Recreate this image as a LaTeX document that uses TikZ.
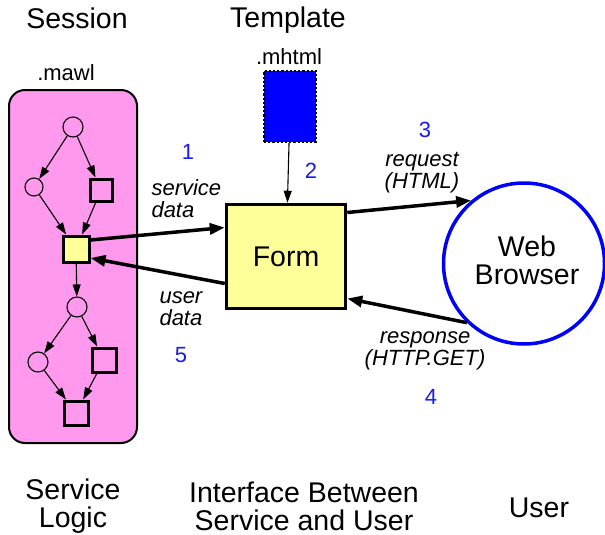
\documentclass[tikz,border=0pt]{standalone}
\usepackage{fontspec}
\setmainfont{Liberation Sans}
\usetikzlibrary{arrows.meta}
\definecolor{pinkbg}{HTML}{FF99EE}
\definecolor{formyellow}{HTML}{FFFF99}
\definecolor{numblue}{HTML}{1A1AF0}
\tikzset{
  big/.style={font=\fontsize{28.5}{28}\selectfont},
  lbl/.style={font=\fontsize{22}{22}\selectfont\itshape},
  small/.style={font=\fontsize{22}{22}\selectfont},
  num/.style={font=\fontsize{22}{22}\selectfont, text=numblue},
  circ/.style={circle, draw, line width=1.1pt, fill=pinkbg, minimum size=19pt, inner sep=0pt},
  sq/.style={rectangle, draw, line width=3pt, fill=pinkbg, minimum size=22pt, inner sep=0pt},
  thin/.style={line width=1.1pt, -{Triangle[length=12pt,width=8pt]}},
  thick/.style={line width=3.5pt, -{Triangle[length=15pt,width=11pt]}},
}
\begin{document}
\begin{tikzpicture}[x=1pt,y=-1pt]
\useasboundingbox (0,0) rectangle (605,535);
% headings
\node[big] (session) at (77,18) {Session};
\node[big] (template) at (288,20) {Template};
\node[small] (mawl) at (66,73) {.mawl};
\node[small] (mhtml) at (289,57) {.mhtml};
% session box
\node[draw, line width=2pt, fill=pinkbg, rounded corners=16pt, minimum width=128pt, minimum height=353pt, inner sep=0pt] (box) at (73,266.5) {};
% mawl graph
\node[circ, minimum size=20pt] (c1) at (73,127) {};
\node[circ, minimum size=18pt] (c2) at (34,187) {};
\node[sq] (s1) at (101,190) {};
\node[sq, fill=formyellow, minimum size=26pt] (y) at (76,249) {};
\node[circ, minimum size=20pt] (c3) at (77,307) {};
\node[circ, minimum size=20pt] (c4) at (38,362) {};
\node[sq, minimum size=24pt] (s2) at (104,360) {};
\node[sq, minimum size=24pt] (s3) at (76,413) {};
\draw[thin] (c1) -- (c2);
\draw[thin] (c1) -- (s1);
\draw[thin] (c2) -- (y);
\draw[thin] (s1) -- (y);
\draw[thin] (y) -- (c3);
\draw[thin] (c3) -- (c4);
\draw[thin] (c3) -- (s2);
\draw[thin] (c4) -- (s3);
\draw[thin] (s2) -- (s3);
% template
\node[draw, dotted, line width=2.2pt, fill=blue, minimum width=52pt, minimum height=71pt, inner sep=0pt] (tmpl) at (290,106.5) {};
% form
\node[draw, line width=3.5pt, fill=formyellow, minimum width=119pt, minimum height=104pt, inner sep=0pt, big] (form) at (286,256.5) {Form};
\draw[thin] (tmpl) -- (form);
% browser
\node[circle, draw=blue, line width=3.5pt, minimum size=161pt, inner sep=0pt] (browser) at (524,263.5) {};
\node[big, align=center] (wb) at (527,260) {Web\\Browser};
% thick arrows
\draw[thick] ([yshift=9pt]y.east) -- ([yshift=29pt]form.west);
\draw[thick] ([yshift=-27pt]form.west) -- ([yshift=-9pt]y.east);
\draw[thick] ([yshift=44pt]form.east) -- (browser.130);
\draw[thick] (browser.226) -- ([yshift=-42pt]form.east);
% labels
\node[num] (n1) at (188,152) {1};
\node[num] (n2) at (311,171) {2};
\node[num] (n3) at (425,130) {3};
\node[num] (n4) at (431,397) {4};
\node[num] (n5) at (181,355) {5};
\node[lbl, align=left, anchor=west] (sd) at (148,199) {service\\data};
\node[lbl, align=left, anchor=west] (ud) at (156,309) {user\\data};
\node[lbl, align=center] (req) at (422,173) {request\\(HTML)};
\node[lbl, align=center] (resp) at (425,351) {response\\(HTTP.GET)};
% bottom
\node[big, align=center] (sl) at (73,506) {Service\\Logic};
\node[big, align=center] (ibs) at (304,506) {Interface Between\\Service and User};
\node[big] (user) at (539,508) {User};
\end{tikzpicture}
\end{document}
